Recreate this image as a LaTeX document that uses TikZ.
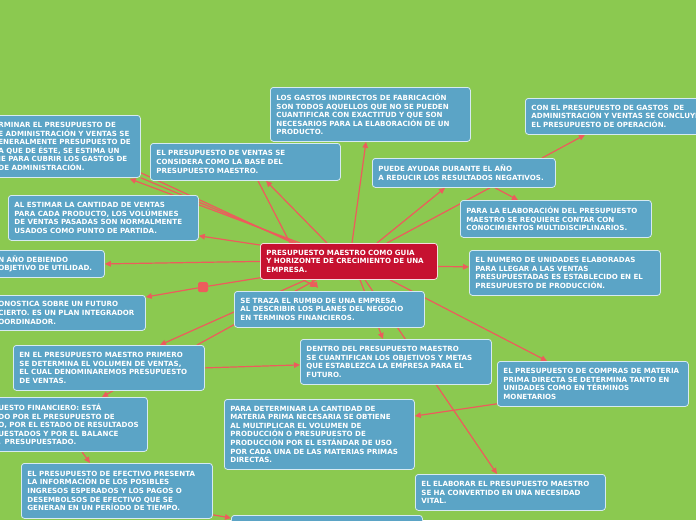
\documentclass[tikz,border=0pt]{standalone}
\usepackage{fontspec}
\setmainfont{DejaVu Sans}
\usetikzlibrary{arrows.meta, backgrounds}
\definecolor{mapgreen}{RGB}{139,201,80}
\definecolor{boxblue}{RGB}{91,164,198}
\definecolor{boxedge}{RGB}{214,234,242}
\definecolor{corered}{RGB}{198,17,48}
\definecolor{linkred}{RGB}{237,92,92}

\begin{document}
\begin{tikzpicture}[x=1pt, y=-1pt,
  idea/.style={draw=boxedge, line width=0.8pt, fill=boxblue, rounded corners=3pt, anchor=north west, align=left, text=white, font=\fontsize{7.1}{8.6}\selectfont\bfseries, inner xsep=6pt, inner ysep=0pt, text width=179pt},
  core/.style={idea, fill=corered, draw=white!85!corered, text width=165pt},
  knob/.style={fill=linkred, rounded corners=1.5pt, minimum size=10pt, inner sep=0pt},
  arr/.style={draw=linkred, line width=1.2pt, -{Triangle[length=6pt,width=5.5pt]}},
  tie/.style={draw=linkred, line width=1.2pt}
]
\useasboundingbox (0,0) rectangle (696,520);
\begin{scope}[on background layer]
\fill[mapgreen] (0,0) rectangle (696,520);
\end{scope}

\node[core, minimum height=36pt] (guia) at (260,243) {PRESUPUESTO MAESTRO COMO GUIA\\Y HORIZONTE DE CRECIMIENTO DE UNA\\EMPRESA.};

\node[idea, text width=136pt, minimum height=62pt] (gastosadm) at (-8,115) {RMINAR EL PRESUPUESTO DE\\E ADMINISTRACIÓN Y VENTAS SE\\ENERALMENTE PRESUPUESTO DE\\A QUE DE ÉSTE, SE ESTIMA UN\\JE PARA CUBRIR LOS GASTOS DE\\DE ADMINISTRACIÓN.};
\node[idea, text width=178pt, minimum height=37pt] (ventas) at (150,143) {EL PRESUPUESTO DE VENTAS SE\\CONSIDERA COMO LA BASE DEL\\PRESUPUESTO MAESTRO.};
\node[idea, text width=188pt, minimum height=54pt] (indirectos) at (270,87) {LOS GASTOS INDIRECTOS DE FABRICACIÓN\\SON TODOS AQUELLOS QUE NO SE PUEDEN\\CUANTIFICAR CON EXACTITUD Y QUE SON\\NECESARIOS PARA LA ELABORACIÓN DE UN\\PRODUCTO.};
\node[idea, minimum height=36pt] (operacion) at (525,98) {CON EL PRESUPUESTO DE GASTOS ~DE\\ADMINISTRACIÓN Y VENTAS SE CONCLUYE\\EL PRESUPUESTO DE OPERACIÓN.};
\node[idea, text width=171pt, minimum height=29pt] (ayuda) at (372,158) {PUEDE AYUDAR DURANTE EL AÑO\\A REDUCIR LOS RESULTADOS NEGATIVOS.};
\node[idea, minimum height=37pt] (multidisc) at (460,200) {PARA LA ELABORACIÓN DEL PRESUPUESTO\\MAESTRO SE REQUIERE CONTAR CON\\CONOCIMIENTOS MULTIDISCIPLINARIOS.};
\node[idea, text width=178pt, minimum height=45pt] (estimar) at (8,195) {AL ESTIMAR LA CANTIDAD DE VENTAS\\PARA CADA PRODUCTO, LOS VOLÚMENES\\DE VENTAS PASADAS SON NORMALMENTE\\USADOS COMO PUNTO DE PARTIDA.};
\node[idea, text width=100pt, minimum height=27pt] (utilidad) at (-8,250) {N AÑO DEBIENDO\\OBJETIVO DE UTILIDAD.};
\node[idea, minimum height=45pt] (produccion) at (469,250) {EL NUMERO DE UNIDADES ELABORADAS\\PARA LLEGAR A LAS VENTAS\\PRESUPUESTADAS ES ESTABLECIDO EN EL\\PRESUPUESTO DE PRODUCCIÓN.};
\node[idea, text width=141pt, minimum height=35pt] (pronostico) at (-8,295) {ONOSTICA SOBRE UN FUTURO\\CIERTO. ES UN PLAN INTEGRADOR\\OORDINADOR.};
\node[idea, text width=178pt, minimum height=36pt] (rumbo) at (234,291) {SE TRAZA EL RUMBO DE UNA EMPRESA\\AL DESCRIBIR LOS PLANES DEL NEGOCIO\\EN TÉRMINOS FINANCIEROS.};
\node[idea, minimum height=45pt] (primero) at (13,345) {EN EL PRESUPUESTO MAESTRO PRIMERO\\SE DETERMINA EL VOLUMEN DE VENTAS,\\EL CUAL DENOMINAREMOS PRESUPUESTO\\DE VENTAS.};
\node[idea, minimum height=45pt] (metas) at (300,339) {DENTRO DEL PRESUPUESTO MAESTRO\\SE CUANTIFICAN LOS OBJETIVOS Y METAS\\QUE ESTABLEZCA LA EMPRESA PARA EL\\FUTURO.};
\node[idea, minimum height=45pt] (compras) at (497,361) {EL PRESUPUESTO DE COMPRAS DE MATERIA\\PRIMA DIRECTA SE DETERMINA TANTO EN\\UNIDADES COMO EN TÉRMINOS\\MONETARIOS};
\node[idea, text width=143pt, minimum height=54pt] (financiero) at (-8,397) {UESTO FINANCIERO: ESTÁ\\DO POR EL PRESUPUESTO DE\\O, POR EL ESTADO DE RESULTADOS\\UESTADOS Y POR EL BALANCE\\. PRESUPUESTADO.};
\node[idea, text width=178pt, minimum height=70pt] (materia) at (224,399) {PARA DETERMINAR LA CANTIDAD DE\\MATERIA PRIMA NECESARIA SE OBTIENE\\AL MULTIPLICAR EL VOLUMEN DE\\PRODUCCIÓN O PRESUPUESTO DE\\PRODUCCIÓN POR EL ESTÁNDAR DE USO\\POR CADA UNA DE LAS MATERIAS PRIMAS\\DIRECTAS.};
\node[idea, minimum height=55pt] (efectivo) at (21,463) {EL PRESUPUESTO DE EFECTIVO PRESENTA\\LA INFORMACIÓN DE LOS POSIBLES\\INGRESOS ESPERADOS Y LOS PAGOS O\\DESEMBOLSOS DE EFECTIVO QUE SE\\GENERAN EN UN PERÍODO DE TIEMPO.};
\node[idea, text width=178pt, minimum height=36pt] (vital) at (415,474) {EL ELABORAR EL PRESUPUESTO MAESTRO\\SE HA CONVERTIDO EN UNA NECESIDAD\\VITAL.};
\node[idea, minimum height=30pt] (extra) at (231,515) {};

\node[knob] (handle) at (203,287) {};

\begin{scope}[on background layer]
\draw[arr] ([xshift=67pt]guia.north west) -- ([xshift=116pt]ventas.south west);
\draw[tie] ([xshift=108pt]ventas.south west) -- ([xshift=30pt]guia.north west);
\draw[arr] ([xshift=40pt]guia.north west) -- ([xshift=-11pt,yshift=-1pt]gastosadm.south east);
\draw[tie] (gastosadm.south east) -- ([xshift=36pt]guia.north west);
\draw[tie] ([yshift=5pt]gastosadm.south east) -- ([xshift=33pt]guia.north west);
\draw[arr] ([yshift=-2pt]guia.north west) -- ([yshift=5pt]estimar.south east);
\draw[arr] (guia.west) -- (utilidad.east);
\draw[arr] ([yshift=2pt]guia.south west) -- (handle) -- ([yshift=-2pt]pronostico.north east);
\draw[arr] ([xshift=92pt]guia.north west) -- ([xshift=96pt]indirectos.south west);
\draw[arr] ([xshift=117pt]guia.north west) -- ([xshift=73pt]ayuda.south west);
\draw[tie] ([xshift=127pt]guia.north west) -- ([xshift=118pt]ayuda.south west);
\draw[arr] ([xshift=123pt]ayuda.south west) -- ([xshift=58pt]multidisc.north west);
\draw[arr] ([xshift=170pt]ayuda.north west) -- ([xshift=60pt]operacion.south west);
\draw[arr] ([yshift=-5pt]guia.east) -- ([yshift=6pt]produccion.west);
\draw[arr] ([xshift=43pt]guia.south west) -- ([xshift=82pt,yshift=4pt]rumbo.north west);
\draw[arr] ([xshift=52pt]guia.south west) -- ([xshift=84pt,yshift=3pt]rumbo.north west);
\draw[arr] ([xshift=46pt]guia.south west) -- ([xshift=147pt]primero.north west);
\draw[tie] ([xshift=184pt]primero.north west) -- ([xshift=56pt]guia.south west);
\draw[arr] ([xshift=100pt]guia.south west) -- ([xshift=83pt]metas.north west);
\draw[arr] ([xshift=105pt]guia.south west) -- ([xshift=82pt]vital.north west);
\draw[arr] ([xshift=130pt]guia.south west) -- ([xshift=50pt]compras.north west);
\draw[arr] ([yshift=3pt]compras.south west) -- ([yshift=-17pt]materia.north east);
\draw[arr] (primero.east) -- ([yshift=-3pt]metas.west);
\draw[arr] ([xshift=100pt]primero.south west) -- ([xshift=110pt]financiero.north west);
\draw[arr] ([xshift=90pt]financiero.south west) -- ([xshift=69pt]efectivo.north west);
\draw[arr] ([yshift=4pt]efectivo.south east) -- ([yshift=-3pt]extra.north west);
\end{scope}
\end{tikzpicture}
\end{document}
